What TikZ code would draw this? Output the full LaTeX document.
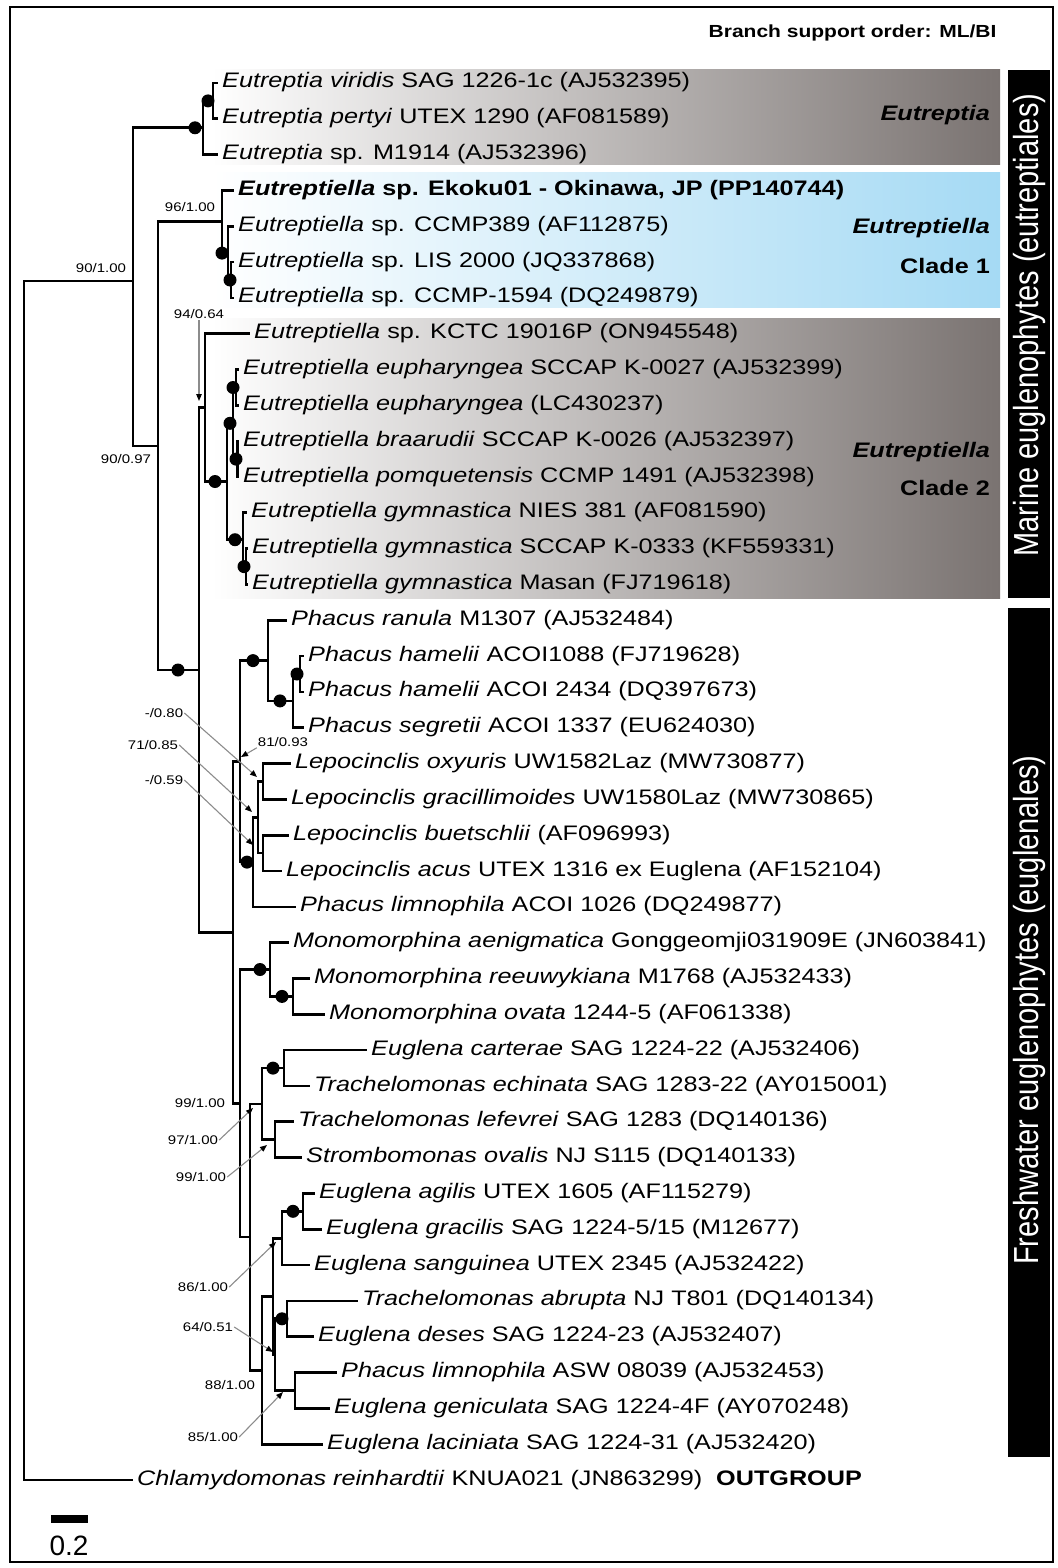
\documentclass[tikz,border=0pt]{standalone}
\usepackage{fontspec}
\usepackage{graphicx}
\setmainfont{Liberation Sans}[FakeStretch=1.2]
\newfontfamily\barfont{Liberation Sans}
\usetikzlibrary{arrows.meta}
\definecolor{boxgray}{RGB}{122,115,113}
\definecolor{boxgraymid}{RGB}{220,216,214}
\definecolor{boxblue}{RGB}{165,218,244}
\definecolor{boxbluemid}{RGB}{218,239,249}
\definecolor{supgray}{RGB}{140,140,140}

\begin{document}
\begin{tikzpicture}[x=1pt, y=-1pt,
  branch/.style={line width=2.7pt},
  tip/.style={anchor=west, inner xsep=4pt, inner ysep=0pt, text height=15pt, text depth=5pt, font=\fontsize{21}{25}\selectfont},
  sup/.style={inner sep=1pt, font=\fontsize{12.5}{14}\selectfont},
  suparrow/.style={supgray, line width=1.1pt, -{Triangle[color=black, length=7pt, width=5.5pt]}},
  boxlabel/.style={anchor=east, inner sep=0pt, font=\fontsize{21}{25}\selectfont\bfseries},
  bartext/.style={rotate=90, text=white, inner sep=0pt, font=\barfont\fontsize{29}{32}\selectfont}]
\useasboundingbox (0,0) rectangle (1057,1568);
\fill[white] (0,0) rectangle (1057,1568);

% clade shading and side bars
\shade[left color=white, middle color=boxgraymid, right color=boxgray] (212,70) rectangle (1000,164);
\shade[left color=white, middle color=boxbluemid, right color=boxblue] (212,172) rectangle (1000,307);
\shade[left color=white, middle color=boxgraymid, right color=boxgray] (212,318) rectangle (1000,598);
\fill[black] (1008,70) rectangle (1050,598);
\fill[black] (1008,608) rectangle (1050,1457);
\draw[line width=2.5pt] (10,7) rectangle (1053,1562);

\node[anchor=east, font=\fontsize{17.5}{20}\selectfont\bfseries] (title) at (1000,33) {Branch support order: ML/BI};

% internal nodes
\coordinate (root) at (24,900);
\coordinate (ingrp) at (133,281);
\coordinate (eut) at (203,127.8);
\coordinate (eutvp) at (213,100.9);
\coordinate (etl) at (158,445.9);
\coordinate (cla1) at (222,221.8);
\coordinate (cla1b) at (228,253.1);
\coordinate (cla1c) at (231,280.0);
\coordinate (cl2fw) at (199,670.0);
\coordinate (cla2) at (205,407.6);
\coordinate (cla2d) at (227,481.5);
\coordinate (eup) at (233,423.3);
\coordinate (eupA) at (236,387.5);
\coordinate (eupB) at (237.5,459.1);
\coordinate (gym) at (243,539.7);
\coordinate (gymB) at (246,566.6);
\coordinate (fresh) at (233,932.4);
\coordinate (phle) at (240,761.4);
\coordinate (pha) at (268,660.6);
\coordinate (phaB) at (293,700.9);
\coordinate (ham) at (300,674.0);
\coordinate (lepli) at (253,862.1);
\coordinate (lep) at (258,817.3);
\coordinate (lepA) at (263,781.5);
\coordinate (lepB) at (263,853.1);
\coordinate (monoeug) at (240,1103.3);
\coordinate (mono) at (270,969.5);
\coordinate (monoB) at (293,996.4);
\coordinate (eug) at (250,1237.1);
\coordinate (trach) at (262,1103.9);
\coordinate (trachA) at (284,1068.1);
\coordinate (trachB) at (275,1139.7);
\coordinate (eugT) at (262,1370.3);
\coordinate (eugR) at (273,1296.4);
\coordinate (eugS) at (282,1238.2);
\coordinate (agi) at (303,1211.3);
\coordinate (eugQ) at (275,1354.6);
\coordinate (des) at (287,1318.8);
\coordinate (gen) at (295,1390.4);

% tips
\node[tip] (t1) at (218,83.0) {\textit{Eutreptia viridis} SAG 1226-1c (AJ532395)};
\node[tip] (t2) at (218,118.8) {\textit{Eutreptia pertyi} UTEX 1290 (AF081589)};
\node[tip] (t3) at (218,154.6) {\textit{Eutreptia} sp. M1914 (AJ532396)};
\node[tip] (t4) at (234,190.5) {\textbf{\textit{Eutreptiella} sp. Ekoku01 - Okinawa, JP (PP140744)}};
\node[tip] (t5) at (234,226.3) {\textit{Eutreptiella} sp. CCMP389 (AF112875)};
\node[tip] (t6) at (234,262.1) {\textit{Eutreptiella} sp. LIS 2000 (JQ337868)};
\node[tip] (t7) at (234,297.9) {\textit{Eutreptiella} sp. CCMP-1594 (DQ249879)};
\node[tip] (t8) at (250,333.7) {\textit{Eutreptiella} sp. KCTC 19016P (ON945548)};
\node[tip] (t9) at (239,369.6) {\textit{Eutreptiella eupharyngea} SCCAP K-0027 (AJ532399)};
\node[tip] (t10) at (239,405.4) {\textit{Eutreptiella eupharyngea} (LC430237)};
\node[tip] (t11) at (239,441.2) {\textit{Eutreptiella braarudii} SCCAP K-0026 (AJ532397)};
\node[tip] (t12) at (239,477.0) {\textit{Eutreptiella pomquetensis} CCMP 1491 (AJ532398)};
\node[tip] (t13) at (247,512.8) {\textit{Eutreptiella gymnastica} NIES 381 (AF081590)};
\node[tip] (t14) at (248,548.7) {\textit{Eutreptiella gymnastica} SCCAP K-0333 (KF559331)};
\node[tip] (t15) at (248,584.5) {\textit{Eutreptiella gymnastica} Masan (FJ719618)};
\node[tip] (t16) at (287,620.3) {\textit{Phacus ranula} M1307 (AJ532484)};
\node[tip] (t17) at (304,656.1) {\textit{Phacus hamelii} ACOI1088 (FJ719628)};
\node[tip] (t18) at (304,691.9) {\textit{Phacus hamelii} ACOI 2434 (DQ397673)};
\node[tip] (t19) at (304,727.8) {\textit{Phacus segretii} ACOI 1337 (EU624030)};
\node[tip] (t20) at (291,763.6) {\textit{Lepocinclis oxyuris} UW1582Laz (MW730877)};
\node[tip] (t21) at (287,799.4) {\textit{Lepocinclis gracillimoides} UW1580Laz (MW730865)};
\node[tip] (t22) at (289,835.2) {\textit{Lepocinclis buetschlii} (AF096993)};
\node[tip] (t23) at (282,871.0) {\textit{Lepocinclis acus} UTEX 1316 ex Euglena (AF152104)};
\node[tip] (t24) at (296,906.9) {\textit{Phacus limnophila} ACOI 1026 (DQ249877)};
\node[tip] (t25) at (289,942.7) {\textit{Monomorphina aenigmatica} Gonggeomji031909E (JN603841)};
\node[tip] (t26) at (310,978.5) {\textit{Monomorphina reeuwykiana} M1768 (AJ532433)};
\node[tip] (t27) at (325,1014.3) {\textit{Monomorphina ovata} 1244-5 (AF061338)};
\node[tip] (t28) at (367,1050.1) {\textit{Euglena carterae} SAG 1224-22 (AJ532406)};
\node[tip] (t29) at (310,1086.0) {\textit{Trachelomonas echinata} SAG 1283-22 (AY015001)};
\node[tip] (t30) at (294,1121.8) {\textit{Trachelomonas lefevrei} SAG 1283 (DQ140136)};
\node[tip] (t31) at (302,1157.6) {\textit{Strombomonas ovalis} NJ S115 (DQ140133)};
\node[tip] (t32) at (315,1193.4) {\textit{Euglena agilis} UTEX 1605 (AF115279)};
\node[tip] (t33) at (322,1229.2) {\textit{Euglena gracilis} SAG 1224-5/15 (M12677)};
\node[tip] (t34) at (310,1265.1) {\textit{Euglena sanguinea} UTEX 2345 (AJ532422)};
\node[tip] (t35) at (358,1300.9) {\textit{Trachelomonas abrupta} NJ T801 (DQ140134)};
\node[tip] (t36) at (314,1336.7) {\textit{Euglena deses} SAG 1224-23 (AJ532407)};
\node[tip] (t37) at (337,1372.5) {\textit{Phacus limnophila} ASW 08039 (AJ532453)};
\node[tip] (t38) at (330,1408.3) {\textit{Euglena geniculata} SAG 1224-4F (AY070248)};
\node[tip] (t39) at (323,1444.2) {\textit{Euglena laciniata} SAG 1224-31 (AJ532420)};
\node[tip] (t40) at (133,1480.0) {\textit{Chlamydomonas reinhardtii} KNUA021 (JN863299)\hspace{14pt}\textbf{OUTGROUP}};

% branches
\foreach \a/\b in {root/ingrp, root/t40, ingrp/eut, ingrp/etl,
    eut/eutvp, eut/t3, eutvp/t1, eutvp/t2,
    etl/cla1, etl/cl2fw, cla1/t4, cla1/cla1b, cla1b/t5, cla1b/cla1c, cla1c/t6, cla1c/t7,
    cl2fw/cla2, cl2fw/fresh, cla2/t8, cla2/cla2d, cla2d/eup, cla2d/gym,
    eup/eupA, eup/eupB, eupA/t9, eupA/t10, eupB/t11, eupB/t12,
    gym/t13, gym/gymB, gymB/t14, gymB/t15,
    fresh/phle, fresh/monoeug, phle/pha, phle/lepli,
    pha/t16, pha/phaB, phaB/ham, phaB/t19, ham/t17, ham/t18,
    lepli/lep, lepli/t24, lep/lepA, lep/lepB, lepA/t20, lepA/t21, lepB/t22, lepB/t23,
    monoeug/mono, monoeug/eug, mono/t25, mono/monoB, monoB/t26, monoB/t27,
    eug/trach, eug/eugT, trach/trachA, trach/trachB,
    trachA/t28, trachA/t29, trachB/t30, trachB/t31,
    eugT/eugR, eugT/t39, eugR/eugS, eugR/eugQ,
    eugS/agi, eugS/t34, agi/t32, agi/t33,
    eugQ/des, eugQ/gen, des/t35, des/t36, gen/t37, gen/t38}
  \draw[branch] (\a) |- (\b);

% full support dots
\foreach \n/\s in {eut/-8, eutvp/-5, cla1b/-6, cla1c/-1, cla2d/-12, eupA/-3, eup/-3, eupB/-1.5,
    gym/-8, gymB/-2, cl2fw/-21, pha/-15, phaB/-13, ham/-3, lepli/-6, mono/-10, monoB/-11,
    trachA/-11, agi/-10, des/-5}
  \fill ([xshift=\s pt]\n) circle[radius=6.5pt];

% support values
\node[sup] (s90a) at (101,268) {90/1.00};
\node[sup] (s96) at (190,207) {96/1.00};
\node[sup] (s94) at (199,314) {94/0.64};
\node[sup] (s90b) at (126,459) {90/0.97};
\node[sup] (s80) at (164,713) {-/0.80};
\node[sup] (s71) at (153,745) {71/0.85};
\node[sup] (s59) at (164,780) {-/0.59};
\node[sup] (s81) at (283,742) {81/0.93};
\node[sup] (s99a) at (200,1103) {99/1.00};
\node[sup] (s97) at (193,1140) {97/1.00};
\node[sup] (s99b) at (201,1177) {99/1.00};
\node[sup] (s86) at (203,1287) {86/1.00};
\node[sup] (s64) at (208,1327) {64/0.51};
\node[sup] (s88) at (230,1385) {88/1.00};
\node[sup] (s85) at (213,1437) {85/1.00};

\coordinate (a94) at (199,401);
\coordinate (a81) at (241,757);
\coordinate (a80) at (257,777);
\coordinate (a71) at (252,812);
\coordinate (a59) at (253,845);
\coordinate (a97) at (253,1108);
\coordinate (a99) at (267,1145);
\coordinate (a86) at (276,1242);
\coordinate (a64) at (273,1352);
\coordinate (a85) at (283,1392);
\draw[suparrow] (s94.south) -- (a94);
\draw[suparrow] (s81.south west) -- (a81);
\draw[suparrow] (s80.east) -- (a80);
\draw[suparrow] (s71.east) -- (a71);
\draw[suparrow] (s59.east) -- (a59);
\draw[suparrow] (s97.east) -- (a97);
\draw[suparrow] (s99b.east) -- (a99);
\draw[suparrow] (s86.east) -- (a86);
\draw[suparrow] (s64.east) -- (a64);
\draw[suparrow] (s85.east) -- (a85);

% clade labels
\node[boxlabel] (lbeut) at (990,115) {\itshape Eutreptia};
\node[boxlabel] (lbc1a) at (990,228) {\itshape Eutreptiella};
\node[boxlabel] (lbc1b) at (990,266) {Clade 1};
\node[boxlabel] (lbc2a) at (990,452) {\itshape Eutreptiella};
\node[boxlabel] (lbc2b) at (990,488) {Clade 2};
\node[bartext] (lbmar) at (1029,325) {\scalebox{1}[1.2]{Marine euglenophytes (eutreptiales)}};
\node[bartext] (lbfw) at (1029,1010) {\scalebox{1}[1.2]{Freshwater euglenophytes (euglenales)}};

% scale bar
\fill (51,1515) rectangle (88,1523);
\node[font=\barfont\fontsize{28}{30}\selectfont] (sblab) at (69,1546) {0.2};
\end{tikzpicture}
\end{document}
